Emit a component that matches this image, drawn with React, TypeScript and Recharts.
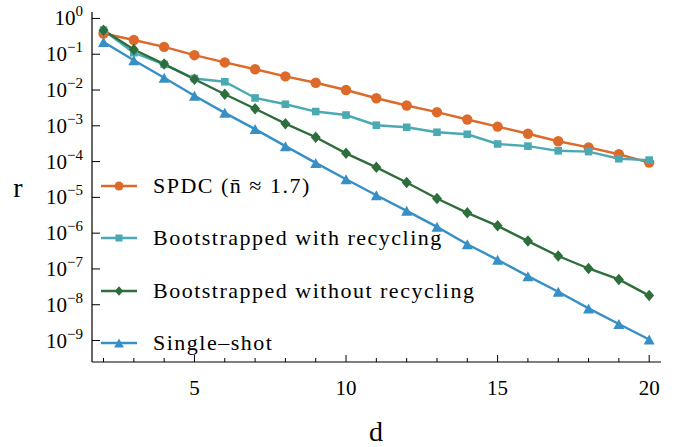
import React from 'react';
import { LineChart, Line, XAxis, YAxis } from 'recharts';

const dValues = [2, 3, 4, 5, 6, 7, 8, 9, 10, 11, 12, 13, 14, 15, 16, 17, 18, 19, 20];
const spdc = [0.38, 0.25, 0.16, 0.094, 0.059, 0.038, 0.024, 0.016, 0.01, 0.0059, 0.0037, 0.0024, 0.0015, 0.00095, 0.0006, 0.00037, 0.00025, 0.00016, 0.000094];
const withRecycling = [0.47, 0.11, 0.052, 0.021, 0.017, 0.006, 0.004, 0.0025, 0.002, 0.00104, 0.00091, 0.00066, 0.00058, 0.00031, 0.00027, 0.0002, 0.00019, 0.00012, 0.00011];
const withoutRecycling = [0.47, 0.135, 0.053, 0.02, 0.0076, 0.003, 0.00115, 0.00048, 0.00017, 0.000069, 0.000026, 9.3e-6, 3.7e-6, 1.6e-6, 6e-7, 2.3e-7, 1.03e-7, 5.1e-8, 1.8e-8];
const singleShot = [0.22, 0.068, 0.022, 0.0069, 0.0023, 0.00081, 0.00027, 0.000092, 0.000032, 0.0000115, 4.2e-6, 1.5e-6, 4.9e-7, 1.8e-7, 6.3e-8, 2.3e-8, 7.9e-9, 2.9e-9, 1.07e-9];

const yTicks = [1, 1e-1, 1e-2, 1e-3, 1e-4, 1e-5, 1e-6, 1e-7, 1e-8, 1e-9];
const yExponents = ['0', '\u22121', '\u22122', '\u22123', '\u22124', '\u22125', '\u22126', '\u22127', '\u22128', '\u22129'];
const xTicks = [2, 3, 4, 5, 6, 7, 8, 9, 10, 11, 12, 13, 14, 15, 16, 17, 18, 19, 20];
const xLabelled = [5, 10, 15, 20];

const seriesNames = ['SPDC (n\u0304 \u2248 1.7)', 'Bootstrapped with recycling', 'Bootstrapped without recycling', 'Single\u2013shot'];
const colors = ['#DD6A2A', '#4BA9B3', '#2E6E3D', '#3690C5'];

const FONT = "'Liberation Serif', 'DejaVu Serif', serif";
const fontStyle = { fontFamily: FONT };

const data = dValues.map((d, i) => ({
  d,
  spdc: spdc[i],
  withRec: withRecycling[i],
  withoutRec: withoutRecycling[i],
  single: singleShot[i],
}));

type Shape = 'circle' | 'square' | 'diamond' | 'triangle';

const marker = (shape: Shape, cx: number, cy: number, color: string, s: number, key?: string) => {
  if (shape === 'circle') return <circle key={key} cx={cx} cy={cy} r={s} fill={color} />;
  if (shape === 'square') return <rect key={key} x={cx - s} y={cy - s} width={2 * s} height={2 * s} fill={color} />;
  if (shape === 'diamond')
    return <polygon key={key} points={`${cx},${cy - s * 1.15} ${cx + s},${cy} ${cx},${cy + s * 1.15} ${cx - s},${cy}`} fill={color} />;
  return <polygon key={key} points={`${cx},${cy - s} ${cx - s * 1.1},${cy + s} ${cx + s * 1.1},${cy + s}`} fill={color} />;
};

const makeDot = (shape: Shape, color: string, s: number, name: string) => (props: any) => {
  const { cx, cy, index } = props;
  if (cx == null || cy == null) return <g key={`${name}-${index}`} />;
  return marker(shape, cx, cy, color, s, `${name}-${index}`);
};

const YTick = (props: any) => {
  const { x, y, payload } = props;
  const i = yTicks.indexOf(payload.value);
  return (
    <g>
      <line x1={x} x2={x + 8} y1={y} y2={y} stroke="#000" strokeWidth={1} />
      <text x={x - 9} y={y + 7} textAnchor="end" style={fontStyle} fontSize={21} fill="#000">
        <tspan>10</tspan>
        <tspan dy={-9} fontSize={15}>{i >= 0 ? yExponents[i] : ''}</tspan>
      </text>
    </g>
  );
};

const XTick = (props: any) => {
  const { x, y, payload } = props;
  const major = xLabelled.includes(payload.value);
  return (
    <g>
      <line x1={x} x2={x} y1={y} y2={y - (major ? 7 : 4)} stroke="#000" strokeWidth={1} />
      {major && (
        <text x={x} y={y + 33} textAnchor="middle" style={fontStyle} fontSize={21} fill="#000">
          {payload.value}
        </text>
      )}
    </g>
  );
};

const shapes: Shape[] = ['circle', 'square', 'diamond', 'triangle'];
const legendSizes = [4.5, 3.5, 4.2, 4.5];
const legendY = [186, 238, 291, 343];

const LegendOverlay = () => (
  <svg width={676} height={447} style={{ position: 'absolute', left: 0, top: 0, pointerEvents: 'none' }}>
    {seriesNames.map((name, i) => (
      <g key={name}>
        <line x1={101} x2={137} y1={legendY[i]} y2={legendY[i]} stroke={colors[i]} strokeWidth={2.5} />
        {marker(shapes[i], 119, legendY[i], colors[i], legendSizes[i])}
        <text x={153} y={legendY[i] + 7} style={fontStyle} fontSize={22} letterSpacing={1.5} fill="#000">
          {name}
        </text>
      </g>
    ))}
    <text x={18} y={197} textAnchor="middle" style={fontStyle} fontSize={28} fill="#000">
      r
    </text>
    <text x={376} y={441} textAnchor="middle" style={fontStyle} fontSize={28} fill="#000">
      d
    </text>
  </svg>
);

export default function App() {
  return (
    <div style={{ position: 'absolute', left: 0, top: 0, width: 676, height: 447, background: '#fff' }}>
      <LineChart width={676} height={447} data={data} margin={{ top: 12, right: 15, left: 0, bottom: 0 }}>
        <XAxis
          dataKey="d"
          type="number"
          domain={[1.62, 20.39]}
          allowDataOverflow
          ticks={xTicks}
          tick={<XTick />}
          tickLine={false}
          tickSize={0}
          tickMargin={0}
          height={85}
          axisLine={{ stroke: '#000', strokeWidth: 1.2 }}
          interval={0}
        />
        <XAxis xAxisId="top" orientation="top" type="number" domain={[1.62, 20.39]} tick={false} tickLine={false} height={0} axisLine={{ stroke: '#000', strokeWidth: 1.2 }} />
        <YAxis
          scale="log"
          type="number"
          domain={[Math.pow(10, -9.6), Math.pow(10, 0.18)]}
          allowDataOverflow
          ticks={yTicks}
          tick={<YTick />}
          tickLine={false}
          tickSize={0}
          tickMargin={0}
          width={92}
          interval={0}
          axisLine={{ stroke: '#000', strokeWidth: 1.2 }}
        />
        <YAxis yAxisId="right" orientation="right" width={0} tick={false} tickLine={false} axisLine={{ stroke: '#000', strokeWidth: 1.2 }} />
        <Line dataKey="spdc" stroke={colors[0]} strokeWidth={2.4} isAnimationActive={false} dot={makeDot('circle', colors[0], 5.2, 'spdc')} />
        <Line dataKey="withRec" stroke={colors[1]} strokeWidth={2.4} isAnimationActive={false} dot={makeDot('square', colors[1], 3.8, 'wr')} />
        <Line dataKey="withoutRec" stroke={colors[2]} strokeWidth={2.4} isAnimationActive={false} dot={makeDot('diamond', colors[2], 5, 'wor')} />
        <Line dataKey="single" stroke={colors[3]} strokeWidth={2.4} isAnimationActive={false} dot={makeDot('triangle', colors[3], 5, 'ss')} />
      </LineChart>
      <LegendOverlay />
    </div>
  );
}
